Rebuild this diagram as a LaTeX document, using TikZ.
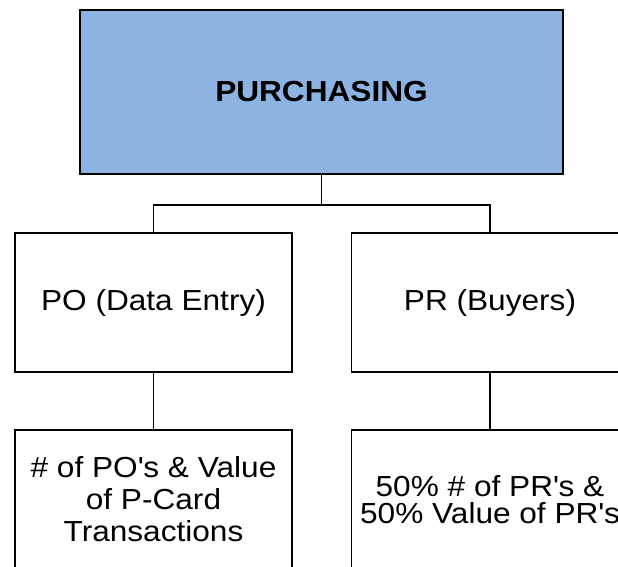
\documentclass[tikz,border=0pt]{standalone}
\usepackage{fontspec}
\setmainfont{Liberation Sans}[FakeStretch=1.09]
\definecolor{headblue}{RGB}{141,179,226}
\newcommand{\apos}{\textquotesingle}
\begin{document}
\begin{tikzpicture}[x=1pt,y=-1pt,
  box/.style={draw=black,line width=1.8pt,rectangle,inner sep=0pt,
    minimum width=277pt,minimum height=139pt,align=center,
    font=\fontsize{29}{32}\selectfont},
  link/.style={draw=black,line width=1.8pt}]
  \useasboundingbox (0,0) rectangle (618,566);
  \clip (0,0) rectangle (618,566);

  % department head
  \node[box,fill=headblue,minimum width=483pt,minimum height=164pt,
        font=\fontsize{29}{32}\selectfont\bfseries] (top) at (321.5,92) {PURCHASING};

  % sections
  \node[box] (po) at (153.5,302.5) {PO (Data Entry)};
  \node[box] (pr) at (490,302.5) {PR (Buyers)};

  % measures
  \node[box] (pomeas) at (153.5,499.5) {\# of PO\apos s \& Value\\of P-Card\\Transactions};
  \node[box,font=\fontsize{29}{27.5}\selectfont] (prmeas) at (490,499.5)
        {50\% \# of PR\apos s \&\\50\% Value of PR\apos s};

  % connectors
  \draw[link] (top.south) -- ++(0,30) coordinate (bus);
  \draw[link] (po.north) |- (bus) -| (pr.north);
  \draw[link] (po.south) -- (pomeas.north);
  \draw[link] (pr.south) -- (prmeas.north);
\end{tikzpicture}
\end{document}
